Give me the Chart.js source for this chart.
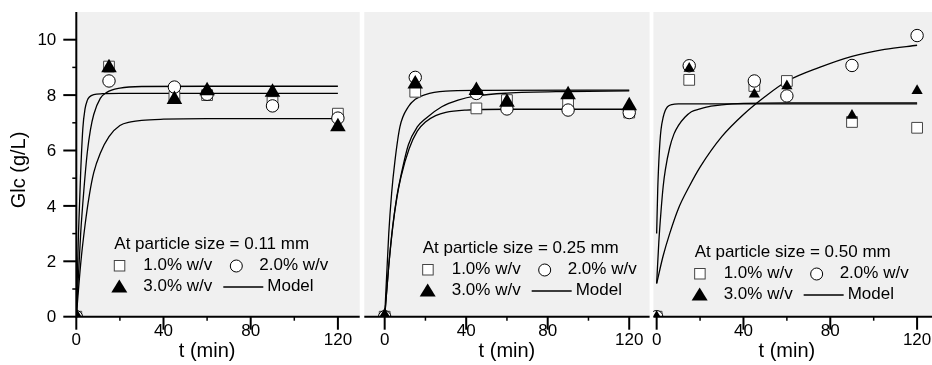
<!DOCTYPE html>
<html>
<head>
<meta charset="utf-8">
<script src="https://cdn.jsdelivr.net/npm/chart.js@4.4.0/dist/chart.umd.min.js"></script>
<style>
html,body{margin:0;padding:0;background:#fff;overflow:hidden;width:932px;height:365px;}
canvas{position:absolute;top:0;display:block;}
</style>
</head>
<body>
<canvas id="c1" width="362" height="365" style="left:0px;width:362px;height:365px"></canvas>
<canvas id="c2" width="290" height="365" style="left:362px;width:290px;height:365px"></canvas>
<canvas id="c3" width="300" height="365" style="left:652px;width:300px;height:365px"></canvas>
<script>
// ---------- data ----------
const TIMES = [0, 15, 45, 60, 90, 120];
const X_MAJOR_TICKS = [0, 40, 80, 120];
const X_MINOR_TICKS = [20, 60, 100];
const Y_MAJOR_TICKS = [0, 2, 4, 6, 8, 10];
const Y_MINOR_TICKS = [1, 3, 5, 7, 9];
const Y_TITLE = "Glc (g/L)";
const X_TITLE = "t (min)";
const SERIES_LABELS = ["1.0% w/v", "2.0% w/v", "3.0% w/v", "Model"];
const PANEL_TITLES = ["At particle size = 0.11 mm", "At particle size = 0.25 mm", "At particle size = 0.50 mm"];

// particle size 0.11 mm
const P1_W1 = [0, 9.03, 7.94, 8.0, 7.75, 7.33];
const P1_W2 = [0, 8.51, 8.29, 8.03, 7.61, 7.17];
const P1_W3 = [0, 8.99, 7.84, 8.16, 8.10, 6.86];
const P1_MA_T = [0, 1, 2, 3, 4, 5, 6, 8, 12, 20, 60, 120];
const P1_MA   = [0, 3.0, 5.2, 6.8, 7.5, 7.8, 7.93, 8.02, 8.05, 8.06, 8.06, 8.06];
const P1_MB_T = [0, 2, 3.5, 5, 6.5, 8, 11, 14, 20, 30, 60, 120];
const P1_MB   = [0, 3.0, 4.6, 5.9, 6.75, 7.3, 7.88, 8.1, 8.25, 8.31, 8.32, 8.32];
const P1_MC_T = [0, 2, 4, 6, 8, 11, 15, 20, 25, 30, 40, 60, 120];
const P1_MC   = [0, 1.9, 3.3, 4.4, 5.2, 5.9, 6.5, 6.9, 7.03, 7.09, 7.13, 7.15, 7.15];

// particle size 0.25 mm
const P2_W1 = [0, 8.12, 7.52, 7.82, 7.73, 7.37];
const P2_W2 = [0, 8.64, 8.06, 7.50, 7.46, 7.37];
const P2_W3 = [0, 8.40, 8.17, 7.74, 8.01, 7.62];
const P2_MA_T = [0, 2, 3.4, 5, 7.5, 11.6, 15, 20, 30, 45, 120];
const P2_MA   = [0, 3.0, 4.45, 5.6, 6.86, 7.58, 7.85, 8.02, 8.14, 8.17, 8.18];
const P2_MB_T = [0, 2, 4, 6, 8, 11.6, 16, 20, 28, 36, 45, 60, 90, 120];
const P2_MB   = [0, 1.85, 3.3, 4.35, 5.1, 6.2, 6.85, 7.15, 7.58, 7.82, 7.97, 8.07, 8.13, 8.15];
const P2_MC_T = [0, 2, 4, 6, 8, 12, 16, 20, 25, 30, 40, 60, 120];
const P2_MC   = [0, 1.83, 3.26, 4.3, 5.05, 6.06, 6.7, 7.03, 7.26, 7.38, 7.46, 7.49, 7.49];

// particle size 0.50 mm
const P3_W1 = [0, 8.55, 8.33, 8.51, 7.03, 6.82];
const P3_W2 = [0, 9.06, 8.51, 7.97, 9.07, 10.15];
const P3_W3 = [0, 8.96, 8.03, 8.33, 7.26, 8.16];
const P3_MA_T = [0, 0.5, 1, 1.5, 2, 3, 4, 5, 7, 10, 120];
const P3_MA   = [3.0, 4.6, 5.6, 6.3, 6.75, 7.2, 7.45, 7.58, 7.66, 7.68, 7.68];
const P3_MB_T = [0, 1, 2, 3, 4, 6, 8, 10, 13, 16, 20, 25, 30, 40, 60, 120];
const P3_MB   = [1.2, 2.7, 3.8, 4.7, 5.3, 6.1, 6.6, 6.9, 7.2, 7.4, 7.5, 7.6, 7.65, 7.7, 7.72, 7.72];
const P3_MC_T = [0, 3, 6, 10, 15, 20, 30, 40, 50, 60, 75, 90, 105, 120];
const P3_MC   = [1.2, 2.2, 3.0, 3.9, 4.7, 5.4, 6.5, 7.3, 7.95, 8.5, 9.0, 9.4, 9.65, 9.8];

// ---------- helpers ----------
const FONT = '"Liberation Sans", Arial, Helvetica, sans-serif';
function pts(xs, ys) { return xs.map((x, i) => ({x: x, y: ys[i]})); }

function markerSets(w1, w2, w3, triR) {
  return [
    {label: SERIES_LABELS[2], data: pts(TIMES, w3), showLine: false, pointStyle: 'triangle',
     pointRadius: triR, backgroundColor: '#000', borderColor: '#000', borderWidth: 0, order: 0},
    {label: SERIES_LABELS[1], data: pts(TIMES, w2), showLine: false, pointStyle: 'circle',
     pointRadius: 6.2, backgroundColor: '#fff', borderColor: '#000', borderWidth: 1, order: 1},
    {label: SERIES_LABELS[0], data: pts(TIMES, w1), showLine: false, pointStyle: 'rect',
     pointRadius: 7.6, backgroundColor: '#fff', borderColor: '#444', borderWidth: 1, order: 2}
  ];
}
function modelSet(xs, ys) {
  return {label: SERIES_LABELS[3], data: pts(xs, ys), showLine: true, pointRadius: 0,
    borderColor: '#000', borderWidth: 1.3, cubicInterpolationMode: 'monotone', order: 3, fill: false};
}

function panelPlugin(opt) {
  return {
    id: 'panelDeco',
    beforeDatasetsDraw(chart) {
      const a = chart.chartArea, c = chart.ctx;
      c.save();
      c.fillStyle = '#f0f0f0';
      c.fillRect(a.left, a.top, a.right - a.left, a.bottom - a.top);
      c.restore();
    },
    afterDatasetsDraw(chart) {
      const a = chart.chartArea, c = chart.ctx;
      const xs = chart.scales.x, ys = chart.scales.y;
      const y0 = ys.getPixelForValue(0);
      c.save();
      c.strokeStyle = '#000';
      c.fillStyle = '#000';
      // x axis line
      c.lineWidth = 2;
      c.beginPath(); c.moveTo(a.left, y0); c.lineTo(a.right, y0); c.stroke();
      // x ticks
      X_MAJOR_TICKS.forEach(v => {
        const px = xs.getPixelForValue(v);
        c.lineWidth = 2;
        c.beginPath(); c.moveTo(px, y0); c.lineTo(px, y0 + 13); c.stroke();
      });
      X_MINOR_TICKS.forEach(v => {
        const px = xs.getPixelForValue(v);
        c.lineWidth = 1.5;
        c.beginPath(); c.moveTo(px, y0); c.lineTo(px, y0 + 4); c.stroke();
      });
      // x tick labels
      c.font = '17px ' + FONT;
      c.textAlign = 'center';
      c.textBaseline = 'middle';
      X_MAJOR_TICKS.forEach((v, i) => {
        const px = xs.getPixelForValue(v);
        const raised = (i === 1 || i === 2);
        c.fillText(String(v), px, raised ? 331 : 340);
      });
      // x title
      c.font = '20px ' + FONT;
      c.textBaseline = 'alphabetic';
      const cx = (xs.getPixelForValue(X_MAJOR_TICKS[0]) + xs.getPixelForValue(X_MAJOR_TICKS[3])) / 2;
      c.fillText(X_TITLE, cx, 357);

      if (opt.showY) {
        const x0 = xs.getPixelForValue(0);
        c.lineWidth = 2;
        c.beginPath(); c.moveTo(x0, a.top); c.lineTo(x0, y0 + 1); c.stroke();
        Y_MAJOR_TICKS.forEach(v => {
          const py = ys.getPixelForValue(v);
          c.lineWidth = 2;
          c.beginPath(); c.moveTo(x0 - 13, py); c.lineTo(x0, py); c.stroke();
        });
        Y_MINOR_TICKS.forEach(v => {
          const py = ys.getPixelForValue(v);
          c.lineWidth = 1.5;
          c.beginPath(); c.moveTo(x0 - 4, py); c.lineTo(x0, py); c.stroke();
        });
        c.font = '17px ' + FONT;
        c.textAlign = 'right';
        c.textBaseline = 'middle';
        Y_MAJOR_TICKS.forEach(v => {
          c.fillText(String(v), x0 - 20, ys.getPixelForValue(v) + 1);
        });
        c.save();
        c.font = '20px ' + FONT;
        c.textAlign = 'center';
        c.translate(19, 170);
        c.rotate(-Math.PI / 2);
        c.fillText(Y_TITLE, 0, 0);
        c.restore();
      }

      // legend
      const sx = xs.getPixelForValue(0) + 38;
      const l1 = opt.legendY, l2 = l1 + 21.5, l3 = l1 + 42.5;
      c.font = '17px ' + FONT;
      c.textAlign = 'left';
      c.textBaseline = 'middle';
      c.fillStyle = '#000';
      c.fillText(opt.title, sx, l1);
      // square
      c.lineWidth = 1;
      c.fillStyle = '#fff'; c.strokeStyle = '#444';
      c.fillRect(sx, l2 - 5, 10.5, 10.5); c.strokeRect(sx, l2 - 5, 10.5, 10.5);
      c.fillStyle = '#000';
      c.fillText(SERIES_LABELS[0], sx + 29, l2);
      // circle
      c.beginPath(); c.arc(sx + 122, l2 + 0.5, 6, 0, Math.PI * 2);
      c.fillStyle = '#fff'; c.fill(); c.strokeStyle = '#000'; c.stroke();
      c.fillStyle = '#000';
      c.fillText(SERIES_LABELS[1], sx + 145, l2);
      // triangle
      c.beginPath();
      c.moveTo(sx + 5, l3 - 7); c.lineTo(sx + 13, l3 + 6); c.lineTo(sx - 3, l3 + 6); c.closePath();
      c.fill();
      c.fillText(SERIES_LABELS[2], sx + 29, l3);
      // model line
      c.lineWidth = 1.3; c.strokeStyle = '#000';
      c.beginPath(); c.moveTo(sx + 109, l3 + 0.5); c.lineTo(sx + 149, l3 + 0.5); c.stroke();
      c.fillText(SERIES_LABELS[3], sx + 153, l3);
      c.restore();
    }
  };
}

function makePanel(id, opt, datasets) {
  return new Chart(document.getElementById(id), {
    type: 'scatter',
    data: {datasets: datasets},
    options: {
      responsive: false,
      animation: false,
      events: [],
      layout: {padding: opt.padding, autoPadding: false},
      plugins: {legend: {display: false}, tooltip: {enabled: false}, title: {display: false}},
      scales: {
        x: {type: 'linear', min: opt.xMin, max: opt.xMax, display: false},
        y: {type: 'linear', min: 0, max: 11, display: false}
      }
    },
    plugins: [panelPlugin(opt)]
  });
}

makePanel('c1', {xMin: 0, xMax: 130, showY: true, title: PANEL_TITLES[0], legendY: 244,
  padding: {left: 76.3, right: 2.3, top: 12, bottom: 48.3}},
  [...markerSets(P1_W1, P1_W2, P1_W3, 9),
   modelSet(P1_MA_T, P1_MA), modelSet(P1_MB_T, P1_MB), modelSet(P1_MC_T, P1_MC)]);

makePanel('c2', {xMin: -10, xMax: 130, showY: false, title: PANEL_TITLES[1], legendY: 248,
  padding: {left: 2.3, right: 2.4, top: 12, bottom: 48.3}},
  [...markerSets(P2_W1, P2_W2, P2_W3, 9),
   modelSet(P2_MA_T, P2_MA), modelSet(P2_MB_T, P2_MB), modelSet(P2_MC_T, P2_MC)]);

makePanel('c3', {xMin: -1.5, xMax: 130, showY: false, title: PANEL_TITLES[2], legendY: 252,
  padding: {left: 1.4, right: 13.2, top: 12, bottom: 48.3}},
  [...markerSets(P3_W1, P3_W2, P3_W3, 6.5),
   modelSet(P3_MA_T, P3_MA), modelSet(P3_MB_T, P3_MB), modelSet(P3_MC_T, P3_MC)]);
</script>
</body>
</html>
